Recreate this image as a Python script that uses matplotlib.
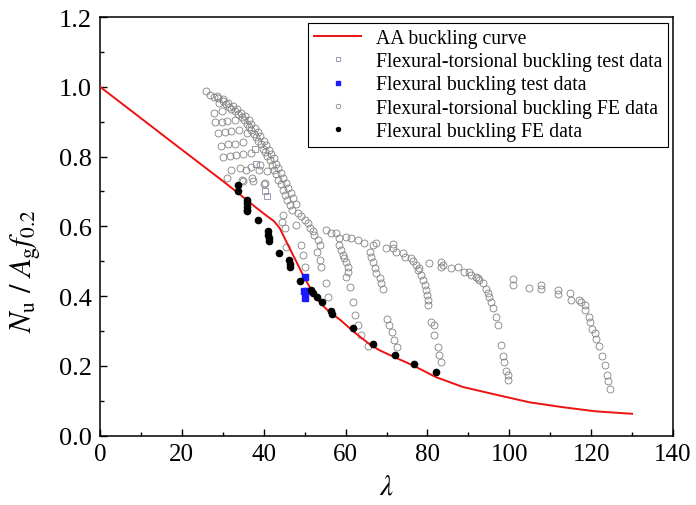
import matplotlib
matplotlib.use("Agg")
import matplotlib.pyplot as plt
from matplotlib.ticker import MultipleLocator

plt.rcParams['font.family'] = ['Liberation Serif', 'DejaVu Serif']
plt.rcParams['mathtext.fontset'] = 'stix'

# AA buckling curve, read point by point
aa_lam = [0, 10, 18.3, 25, 30, 33.7, 38, 41, 42.5, 43.9, 46, 47.5, 49.6, 51.5, 53.7, 56,
          58.5, 62, 65.9, 68.3, 72, 76.4, 82.1, 88.6, 95.9, 104.9, 113, 121.1, 130]
aa_val = [1.0, 0.91, 0.835, 0.775, 0.73, 0.696, 0.655, 0.628, 0.615, 0.595, 0.545, 0.51,
          0.46, 0.42, 0.382, 0.355, 0.334, 0.298, 0.262, 0.245, 0.225, 0.202, 0.168,
          0.140, 0.120, 0.096, 0.082, 0.070, 0.063]

# flexural-torsional buckling test data
ft_test_lam = [37.8, 38.2, 40.2, 40.7]
ft_test_val = [0.821, 0.779, 0.700, 0.688]

# flexural buckling test data
fl_test_lam = [50.1, 49.8, 50.5, 50.1]
fl_test_val = [0.456, 0.415, 0.416, 0.394]

# flexural-torsional buckling FE data
ft_fe_lam = [
    # upper band
    25.9, 26.8, 27.9, 28.9, 29.0, 30.1, 30.9, 31.5, 32.1, 32.9, 33.7, 34.6, 35.2, 35.8,
    36.3, 37.0, 37.6, 38.2, 38.6, 39.3, 39.8, 40.4, 40.9, 41.5, 41.9, 42.5, 43.1, 43.5,
    44.1, 44.7, 45.3, 45.8, 46.3, 46.9,
    28.5, 30.0, 31.3, 32.5, 33.5, 34.5, 35.5, 36.3, 37.0, 37.8, 38.5, 39.2, 40.0, 40.6,
    41.2, 41.8, 42.4, 43.0, 43.6, 44.2, 44.8, 45.4, 46.0, 46.6, 47.2, 47.8,
    48.4, 49.2, 50.0, 50.8, 51.2, 52.0, 52.4, 53.3, 53.7, 52.9, 53.7, 54.1, 55.3, 55.7,
    # inner rows
    27.9, 29.7,
    28.2, 29.7, 31.1, 32.9,
    28.9, 30.5, 32.1, 33.9, 35.8,
    29.5, 31.3, 32.9, 35.0,
    30.1, 31.7, 33.3, 35.0, 36.8,
    32.1, 34.1, 36.8, 39.0, 35.6, 38.8, 40.9,
    31.1, 34.6, 37.2, 40.1, 34.9, 37.4, 40.2,
    44.7, 45.1, 44.5, 45.5, 48.0, 49.2, 49.6, 50.0,
    # plateau near 0.57
    55.3, 56.5, 57.7, 58.5, 60.2, 61.4, 63.0, 64.6, 66.7, 67.5, 69.9, 71.5,
    # column dropping near 60
    58.5, 58.9, 59.3, 59.7, 60.2, 60.6, 60.6, 60.2,
    61.0, 61.8, 62.2, 63.0, 63.8, 65.4,
    # column dropping near 67
    65.9, 66.3, 66.7, 67.1, 67.5, 68.3, 68.7, 69.1,
    70.0, 70.7, 71.3, 71.9, 72.6,
    # column dropping near 79
    71.5, 72.4, 74.0, 74.4, 76.0, 76.4, 77.2, 77.6, 78.0, 78.5, 78.9, 79.3, 79.7, 79.8,
    80.1, 80.1,
    80.9, 81.7, 81.5, 82.5, 82.9, 83.3,
    # series dropping near 98
    80.5, 83.3, 83.3, 83.7, 85.8, 87.4, 89.0, 90.2, 90.6, 91.9, 92.3, 92.5, 93.5, 94.3,
    94.7, 95.1, 95.5, 95.9, 96.7, 97.2,
    97.97, 98.4, 98.8, 99.2, 99.6, 99.8,
    # series dropping near 123
    100.8, 100.8, 104.8, 107.7, 107.7, 112.0, 112.0, 114.9, 115.0, 117.0, 117.5, 118.4,
    118.6, 119.5, 119.7, 120.3, 121.0, 121.1, 122.0, 122.7, 123.3, 123.8, 124.2, 124.6,
]
ft_fe_val = [
    0.988, 0.977, 0.971, 0.967, 0.955, 0.958, 0.950, 0.942, 0.935, 0.931, 0.923, 0.913,
    0.904, 0.894, 0.885, 0.875, 0.866, 0.856, 0.844, 0.835, 0.823, 0.814, 0.801, 0.789,
    0.776, 0.763, 0.749, 0.734, 0.722, 0.705, 0.691, 0.677, 0.662, 0.648,
    0.975, 0.965, 0.955, 0.945, 0.935, 0.925, 0.915, 0.905, 0.893, 0.882, 0.870, 0.858,
    0.845, 0.833, 0.820, 0.808, 0.795, 0.780, 0.766, 0.752, 0.738, 0.724, 0.710, 0.695,
    0.680, 0.665,
    0.638, 0.629, 0.619, 0.610, 0.595, 0.586, 0.576, 0.561, 0.547, 0.528, 0.504, 0.485,
    0.437, 0.398,
    0.926, 0.931,
    0.900, 0.900, 0.902, 0.904,
    0.868, 0.871, 0.873, 0.875, 0.868,
    0.830, 0.835, 0.837, 0.843,
    0.799, 0.801, 0.804, 0.808, 0.811,
    0.763, 0.766, 0.770, 0.776, 0.762, 0.762, 0.758,
    0.739, 0.734, 0.739, 0.722, 0.729, 0.729, 0.724,
    0.633, 0.595, 0.614, 0.542, 0.605, 0.547, 0.518, 0.485,
    0.590, 0.581, 0.581, 0.566, 0.571, 0.566, 0.561, 0.552, 0.547, 0.552, 0.537, 0.537,
    0.547, 0.533, 0.518, 0.509, 0.499, 0.485, 0.470, 0.456,
    0.427, 0.384, 0.346, 0.317, 0.288, 0.258,
    0.528, 0.513, 0.499, 0.480, 0.466, 0.451, 0.437, 0.422,
    0.336, 0.317, 0.298, 0.274, 0.255,
    0.549, 0.528, 0.523, 0.513, 0.510, 0.501, 0.490, 0.475, 0.480, 0.461, 0.446, 0.432,
    0.418, 0.403, 0.389, 0.376,
    0.326, 0.317, 0.288, 0.255, 0.231, 0.211,
    0.494, 0.499, 0.485, 0.490, 0.480, 0.485, 0.470, 0.470, 0.461, 0.456, 0.453, 0.446,
    0.437, 0.422, 0.408, 0.398, 0.384, 0.365, 0.341, 0.317,
    0.259, 0.230, 0.211, 0.187, 0.173, 0.159,
    0.449, 0.432, 0.424, 0.432, 0.421, 0.418, 0.405, 0.408, 0.390, 0.390, 0.384, 0.375,
    0.360, 0.341, 0.326, 0.307, 0.295, 0.276, 0.257, 0.228, 0.202, 0.175, 0.156, 0.135,
]

# flexural buckling FE data
fl_fe_lam = [33.6, 33.6, 35.9, 35.9, 35.9, 35.9, 35.9, 38.6, 41.1, 41.1, 41.3, 41.3,
             43.8, 46.2, 46.3, 46.5, 48.8, 51.5, 52.0, 53.0, 54.2, 56.5, 56.7, 61.8,
             66.8, 72.0, 76.8, 82.0]
fl_fe_val = [0.720, 0.701, 0.677, 0.667, 0.657, 0.648, 0.643, 0.619, 0.586, 0.576, 0.566,
             0.557, 0.525, 0.505, 0.493, 0.483, 0.443, 0.418, 0.410, 0.397, 0.382, 0.357,
             0.348, 0.309, 0.264, 0.231, 0.207, 0.183]

fig = plt.figure(figsize=(6.96, 5.06), dpi=100)
ax = fig.add_axes([0.1437, 0.1368, 0.8233, 0.8276])

ax.plot(aa_lam, aa_val, color='#ee1111', lw=1.4, label='AA buckling curve', zorder=3)
ax.plot(ft_test_lam, ft_test_val, ls='none', marker='s', ms=4, mfc='none', mec='#8a8aa8',
        mew=0.6, label='Flexural-torsional buckling test data', zorder=2)
ax.plot(fl_test_lam, fl_test_val, ls='none', marker='s', ms=4, color='#1a1aff',
        label='Flexural buckling test data', zorder=4)
ax.plot(ft_fe_lam, ft_fe_val, ls='none', marker='o', ms=5, mfc='none', mec='#808080',
        mew=0.6, label='Flexural-torsional buckling FE data', zorder=2)
ax.plot(fl_fe_lam, fl_fe_val, ls='none', marker='o', ms=4.5, color='black',
        label='Flexural buckling FE data', zorder=5)

ax.set_xlim(0, 140)
ax.set_ylim(0, 1.2)
ax.xaxis.set_major_locator(MultipleLocator(20))
ax.xaxis.set_minor_locator(MultipleLocator(10))
ax.yaxis.set_major_locator(MultipleLocator(0.2))
ax.yaxis.set_minor_locator(MultipleLocator(0.1))
ax.yaxis.set_major_formatter(matplotlib.ticker.FormatStrFormatter('%.1f'))
ax.tick_params(which='both', direction='in', top=False, right=False)
ax.tick_params(axis='x', labelsize=18, pad=5)
ax.tick_params(axis='y', labelsize=19, pad=6)
ax.tick_params(which='major', length=5, width=1)
ax.tick_params(which='minor', length=3, width=1)
for s in ax.spines.values():
    s.set_linewidth(1.1)

ax.set_xlabel(r'$\lambda$', fontsize=21, labelpad=6)
ax.set_ylabel(r'$N_{\mathrm{u}}\ /\ A_{\mathrm{g}}f_{0.2}$', fontsize=22)
ax.yaxis.set_label_coords(-0.1, 0.395)

leg = ax.legend(loc='upper right', bbox_to_anchor=(0.992, 0.986), borderaxespad=0,
                fontsize=14.2, labelspacing=0.22, handlelength=2.4, handletextpad=0.75,
                borderpad=0.3, fancybox=False, framealpha=1, markerscale=0.65)
leg.get_frame().set_edgecolor('black')
leg.get_frame().set_linewidth(0.8)

plt.savefig("out.png", dpi=100)
plt.close()
